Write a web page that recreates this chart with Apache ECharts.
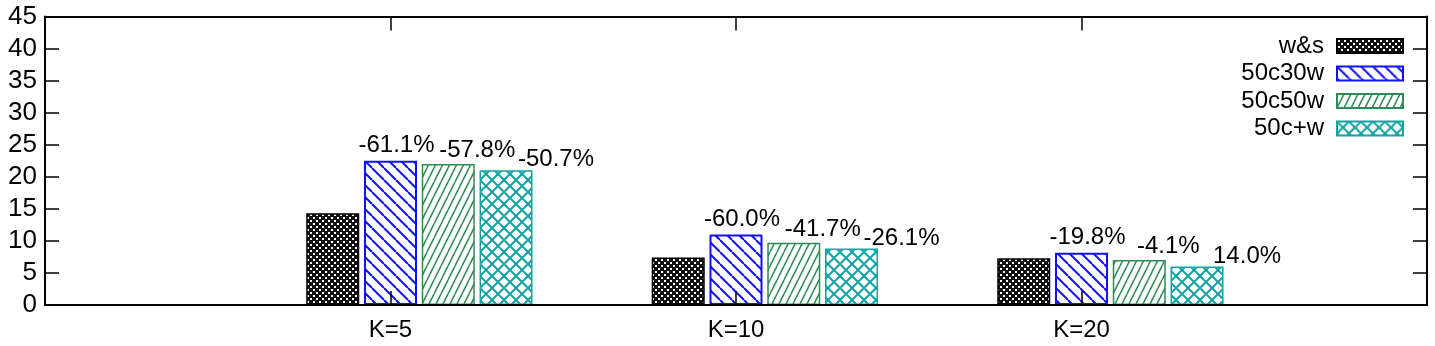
<!DOCTYPE html>
<html>
<head>
<meta charset="utf-8">
<script src="https://cdn.jsdelivr.net/npm/echarts@6/dist/echarts.min.js"></script>
<style>
  html, body { margin: 0; padding: 0; background: #fff; }
  #chart { width: 1435px; height: 346px; }
</style>
</head>
<body>
<div id="chart"></div>
<script>
// categories (empty slots at both ends keep the gnuplot-like spacing)
const categories = ['', 'K=5', 'K=10', 'K=20', '']

const seriesNames = ['w&s', '50c30w', '50c50w', '50c+w']
const wsValues     = [14.3, 7.4, 7.3]
const c30wValues   = [22.5, 11.0, 8.15]
const c50wValues   = [22.0, 9.7, 7.0]
const cwValues     = [21.0, 8.8, 6.0]

const c30wLabels = ['-61.1%', '-60.0%', '-19.8%']
const c50wLabels = ['-57.8%', '-41.7%', '-4.1%']
const cwLabels   = ['-50.7%', '-26.1%', '14.0%']

const FONT = "'Liberation Sans', Arial, sans-serif"

function pad(vals) {
  return ['-'].concat(vals, ['-'])
}

function makePattern(w, h, draw) {
  const c = document.createElement('canvas')
  c.width = w
  c.height = h
  const ctx = c.getContext('2d')
  draw(ctx, w, h)
  return { image: c, repeat: 'repeat' }
}

// dense black crosshatch with white dots
const wsFill = makePattern(6, 6, (ctx, w, h) => {
  ctx.fillStyle = '#111'
  ctx.fillRect(0, 0, w, h)
  ctx.fillStyle = '#fff'
  ctx.fillRect(1, 1, 2, 2)
  ctx.fillRect(4, 4, 2, 2)
})

// blue "\" stripes
const c30wFill = makePattern(12, 12, (ctx, w, h) => {
  ctx.fillStyle = '#fff'
  ctx.fillRect(0, 0, w, h)
  ctx.strokeStyle = '#1010ff'
  ctx.lineWidth = 2
  for (let k = -1; k <= 1; k++) {
    ctx.beginPath()
    ctx.moveTo(k * w, 0)
    ctx.lineTo(k * w + w, h)
    ctx.stroke()
  }
})

// green steep "/" stripes
const c50wFill = makePattern(7, 14, (ctx, w, h) => {
  ctx.fillStyle = '#fff'
  ctx.fillRect(0, 0, w, h)
  ctx.strokeStyle = '#2e8b57'
  ctx.lineWidth = 1.5
  for (let k = -1; k <= 1; k++) {
    ctx.beginPath()
    ctx.moveTo(k * w, h)
    ctx.lineTo(k * w + w, 0)
    ctx.stroke()
  }
})

// teal crosshatch
const cwFill = makePattern(12, 12, (ctx, w, h) => {
  ctx.fillStyle = '#fff'
  ctx.fillRect(0, 0, w, h)
  ctx.strokeStyle = '#14a3a3'
  ctx.lineWidth = 2
  for (let k = -1; k <= 1; k++) {
    ctx.beginPath()
    ctx.moveTo(k * w, 0)
    ctx.lineTo(k * w + w, h)
    ctx.stroke()
    ctx.beginPath()
    ctx.moveTo(k * w, h)
    ctx.lineTo(k * w + w, 0)
    ctx.stroke()
  }
})

function pctLabel(texts, offset) {
  return {
    show: true,
    position: 'top',
    distance: 0,
    offset: offset,
    color: '#000',
    fontFamily: FONT,
    fontSize: 24,
    formatter: p => texts[p.dataIndex - 1] || ''
  }
}

function axisLine() {
  return { show: true, onZero: false, lineStyle: { color: '#000', width: 2 } }
}

function axisTick() {
  return { show: true, inside: true, length: 14, lineStyle: { color: '#000', width: 1.5 } }
}

const chart = echarts.init(document.getElementById('chart'))

chart.setOption({
  animation: false,
  textStyle: { fontFamily: FONT },
  grid: { left: 45, right: 8, top: 16.5, bottom: 41 },
  legend: {
    data: seriesNames,
    orient: 'vertical',
    right: 26,
    top: 29,
    align: 'right',
    icon: 'rect',
    itemWidth: 66,
    itemHeight: 14,
    itemGap: 3.5,
    textStyle: { fontSize: 24, color: '#000', padding: [0, 8, 0, 0] }
  },
  xAxis: [
    {
      type: 'category',
      data: categories,
      boundaryGap: false,
      position: 'bottom',
      z: 10,
      axisLine: axisLine(),
      axisTick: axisTick(),
      axisLabel: { color: '#000', fontSize: 24, margin: 13 },
      splitLine: { show: false }
    },
    {
      type: 'category',
      data: categories,
      boundaryGap: false,
      position: 'top',
      z: 10,
      axisLine: axisLine(),
      axisTick: axisTick(),
      axisLabel: { show: false },
      splitLine: { show: false }
    }
  ],
  yAxis: [
    {
      type: 'value',
      min: 0,
      max: 45,
      interval: 5,
      position: 'left',
      z: 10,
      axisLine: axisLine(),
      axisTick: axisTick(),
      axisLabel: { color: '#000', fontSize: 26, margin: 8 },
      splitLine: { show: false }
    },
    {
      type: 'value',
      min: 0,
      max: 45,
      interval: 5,
      position: 'right',
      z: 10,
      axisLine: axisLine(),
      axisTick: axisTick(),
      axisLabel: { show: false },
      splitLine: { show: false }
    }
  ],
  series: [
    {
      // empty slot so that the 50c30w bar sits on the tick
      name: 'spacer',
      type: 'bar',
      barWidth: 53,
      barGap: '9%',
      data: ['-', '-', '-', '-', '-']
    },
    {
      name: 'w&s',
      type: 'bar',
      barWidth: 53,
      barGap: '9%',
      itemStyle: { color: wsFill, borderColor: '#000', borderWidth: 1.5 },
      data: pad(wsValues)
    },
    {
      name: '50c30w',
      type: 'bar',
      barWidth: 53,
      barGap: '9%',
      itemStyle: { color: c30wFill, borderColor: '#1010ff', borderWidth: 2 },
      label: pctLabel(c30wLabels, [6, -3.5]),
      data: pad(c30wValues)
    },
    {
      name: '50c50w',
      type: 'bar',
      barWidth: 53,
      barGap: '9%',
      itemStyle: { color: c50wFill, borderColor: '#2e8b57', borderWidth: 1.5 },
      label: pctLabel(c50wLabels, [29, -1.5]),
      data: pad(c50wValues)
    },
    {
      name: '50c+w',
      type: 'bar',
      barWidth: 53,
      barGap: '9%',
      itemStyle: { color: cwFill, borderColor: '#14a3a3', borderWidth: 1.5 },
      label: pctLabel(cwLabels, [50, 1.5]),
      data: pad(cwValues)
    }
  ]
})
</script>
</body>
</html>
